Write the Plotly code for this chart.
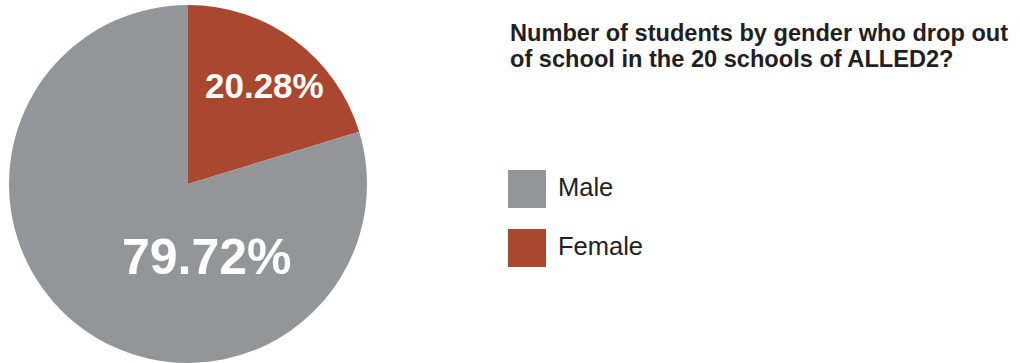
import plotly.graph_objects as go

# Share of dropouts by gender (%)
labels = ["Male", "Female"]
values = [79.72, 20.28]
colors = ["#939598", "#A94731"]

title_lines = ["Number of students by gender who drop out",
               "of school in the 20 schools of ALLED2?"]

W, H = 1020, 363

# Female slice runs clockwise from 12 o'clock, so it is drawn first
fig = go.Figure()
fig.add_trace(go.Pie(
    labels=labels[::-1],
    values=values[::-1],
    sort=False,
    direction="clockwise",
    rotation=0,
    marker=dict(colors=colors[::-1], line=dict(width=0)),
    textinfo="none",
    hoverinfo="label+percent",
    showlegend=False,
    domain=dict(x=[9 / W, 367 / W], y=[0, 358 / H]),
))

# Percentage labels placed inside each slice
label_pos = {"Male": (207, 257, 50), "Female": (264, 85, 35)}
annotations = []
for lab, val in zip(labels, values):
    px, py, size = label_pos[lab]
    annotations.append(dict(
        x=px / W, y=1 - py / H, xref="paper", yref="paper",
        text=f"{val:.2f}%", showarrow=False,
        xanchor="center", yanchor="middle",
        font=dict(family="Liberation Sans", size=size, color="white", weight="bold"),
    ))

# Title block, one annotation per line
for i, line in enumerate(title_lines):
    annotations.append(dict(
        x=508 / W, y=1 - (33 + 26 * i) / H, xref="paper", yref="paper",
        text=line, showarrow=False, xanchor="left", yanchor="middle",
        font=dict(family="Liberation Sans", size=23.6, color="#231F20", weight="bold"),
    ))

# Legend: swatch squares with labels
shapes = []
legend_top = [170, 229]
for lab, col, top in zip(labels, colors, legend_top):
    shapes.append(dict(
        type="rect", xref="paper", yref="paper",
        x0=508 / W, x1=546 / W, y0=1 - (top + 38) / H, y1=1 - top / H,
        fillcolor=col, line=dict(width=0),
    ))
    annotations.append(dict(
        x=556 / W, y=1 - (top + 17) / H, xref="paper", yref="paper",
        text=lab, showarrow=False, xanchor="left", yanchor="middle",
        font=dict(family="Liberation Sans", size=25.5, color="#231F20"),
    ))

fig.update_layout(
    width=W, height=H,
    margin=dict(l=0, r=0, t=0, b=0),
    paper_bgcolor="white",
    plot_bgcolor="white",
    annotations=annotations,
    shapes=shapes,
)

fig.write_html("out.html")
